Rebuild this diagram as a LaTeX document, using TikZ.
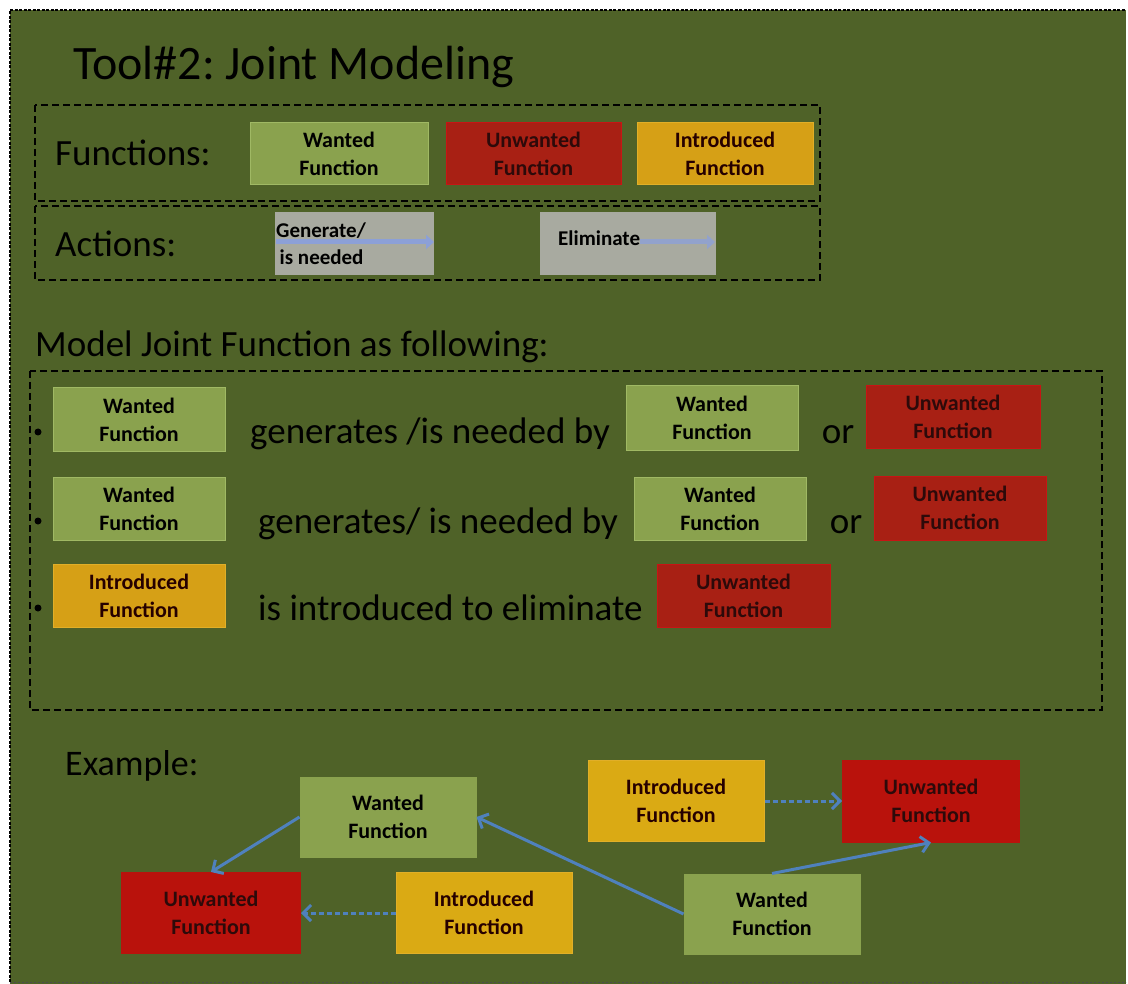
\documentclass[tikz,border=0pt]{standalone}
\usepackage{fontspec}
\setmainfont{Carlito}
\usetikzlibrary{arrows.meta}
\definecolor{bg}{RGB}{79,98,40}
\definecolor{wantc}{RGB}{138,162,78}
\definecolor{wantb}{RGB}{160,185,100}
\definecolor{unwc}{RGB}{168,32,20}
\definecolor{unwb}{RGB}{200,20,20}
\definecolor{exred}{RGB}{185,18,12}
\definecolor{introc}{RGB}{214,160,22}
\definecolor{introb}{RGB}{225,175,40}
\definecolor{greyc}{RGB}{168,170,160}
\definecolor{arrc}{RGB}{79,129,189}
\definecolor{lightarr}{RGB}{140,160,215}
\definecolor{darktxt}{RGB}{45,10,10}
\tikzset{
  fbox/.style={rectangle, inner sep=0pt, align=center, font=\fontsize{22}{28}\selectfont\bfseries, line width=1pt},
  wanted/.style={fbox, fill=wantc, draw=wantb},
  unwanted/.style={fbox, fill=unwc, draw=unwb, text=darktxt},
  exunwanted/.style={fbox, fill=exred, draw=exred, text=darktxt},
  introduced/.style={fbox, fill=introc, draw=introb, text=black!85!red},
  greybox/.style={rectangle, inner sep=0pt, fill=greyc},
  biglabel/.style={inner sep=0pt, anchor=base west, font=\fontsize{37}{44}\selectfont},
  groupbox/.style={draw=black, line width=1.6pt, dash pattern=on 7pt off 4pt},
  exarrow/.style={draw=arrc, line width=3pt, -{Straight Barb[length=8pt,width=16pt]}},
  dasharrow/.style={exarrow, dash pattern=on 5pt off 3pt},
  actarrow/.style={draw=lightarr, line width=5pt, -{Triangle[length=8pt,width=14pt]}},
}
\begin{document}
\begin{tikzpicture}[x=1pt,y=-1pt]
\useasboundingbox (0,0) rectangle (1128,984);
\fill[white] (0,0) rectangle (1128,984);
\fill[bg] (10,10) rectangle (1126,984);
\draw[line width=1.5pt, dash pattern=on 3pt off 1.5pt] (10,982) -- (10,10) -- (1126,10);
\draw[line width=1pt, black!70, dash pattern=on 2pt off 2pt] (10,982) -- (1126,982);

% title
\node[inner sep=0pt, anchor=base west, font=\fontsize{48}{56}\selectfont] (title) at (73,80) {Tool\#2:\hspace{-4pt} Joint Modeling};

% legend groups
\draw[groupbox] (35,105) rectangle (820,201);
\draw[groupbox] (35,206) rectangle (820,280);
\node[biglabel] (funlab) at (55,166) {Functions:};
\node[wanted, minimum width=178, minimum height=62] (lw) at (339,154) {Wanted\\Function};
\node[unwanted, minimum width=175, minimum height=62] (lu) at (533.5,154) {Unwanted\\Function};
\node[introduced, minimum width=176, minimum height=62] (li) at (725,154) {Introduced\\Function};

\node[biglabel] (actlab) at (55,257) {Actions:};
\node[greybox, minimum width=159, minimum height=63] (gen) at (354.5,243.5) {};
\coordinate (genA) at (276,242);
\coordinate (genB) at (434,242);
\draw[actarrow] (genA) -- (genB);
\node[inner sep=0pt, anchor=west, align=left, font=\fontsize{21}{27}\selectfont\bfseries] (gentxt) at (276,244) {Generate/\\\,is needed};
\node[greybox, minimum width=176, minimum height=63] (elim) at (628,243.5) {};
\node[inner sep=0pt, anchor=west, font=\fontsize{21}{27}\selectfont\bfseries] (elimtxt) at (558,238) {Eliminate};
\coordinate (elimB) at (715,242);
\draw[actarrow, draw=lightarr!80!greyc] (elimtxt.east |- elimB) -- (elimB);

% model section
\node[biglabel] (modlab) at (35,357) {Model Joint Function as following:};
\draw[groupbox] (30,371) rectangle (1102,710);

\fill (38,432) circle (3.5pt);
\fill (38,521) circle (3.5pt);
\fill (38,608) circle (3.5pt);

\node[wanted, minimum width=172, minimum height=63] (r1a) at (139,419.5) {Wanted\\Function};
\node[biglabel] (r1t) at (250,443) {generates /is needed by};
\node[wanted, minimum width=172, minimum height=64] (r1b) at (712,418) {Wanted\\Function};
\node[biglabel, anchor=base] (r1or) at (838,443) {or};
\node[unwanted, minimum width=174, minimum height=62] (r1c) at (953,417) {Unwanted\\Function};

\node[wanted, minimum width=172, minimum height=63] (r2a) at (139,508.5) {Wanted\\Function};
\node[biglabel] (r2t) at (258,533) {generates/ is needed by};
\node[wanted, minimum width=172, minimum height=63] (r2b) at (720,508.5) {Wanted\\Function};
\node[biglabel, anchor=base] (r2or) at (846,533) {or};
\node[unwanted, minimum width=172, minimum height=64] (r2c) at (960,508) {Unwanted\\Function};

\node[introduced, minimum width=172, minimum height=63] (r3a) at (139,595.5) {Introduced\\Function};
\node[biglabel] (r3t) at (258,620) {is introduced to eliminate};
\node[unwanted, minimum width=173, minimum height=63] (r3b) at (743.5,595.5) {Unwanted\\Function};

% example
\node[biglabel, font=\fontsize{36}{44}\selectfont] (exlab) at (65,775) {Example:};
\node[wanted, minimum width=176, minimum height=80, draw=wantc] (w1) at (388,817) {Wanted\\Function};
\node[exunwanted, minimum width=179, minimum height=81] (u1) at (211,913) {Unwanted\\Function};
\node[introduced, minimum width=176, minimum height=81, fill=introc!90!yellow] (i1) at (484,913) {Introduced\\Function};
\node[wanted, minimum width=176, minimum height=80, draw=wantc] (w2) at (772,914) {Wanted\\Function};
\node[introduced, minimum width=176, minimum height=81, fill=introc!90!yellow] (i2) at (676,801) {Introduced\\Function};
\node[exunwanted, minimum width=177, minimum height=82] (u2) at (931,801) {Unwanted\\Function};

\draw[exarrow] (w1.west) -- (u1.north);
\draw[dasharrow] (i1.west) -- (u1.east);
\draw[exarrow] (w2.west) -- (w1.east);
\draw[dasharrow] (i2.east) -- (u2.west);
\draw[exarrow] (w2.north) -- (u2.south);
\end{tikzpicture}
\end{document}
